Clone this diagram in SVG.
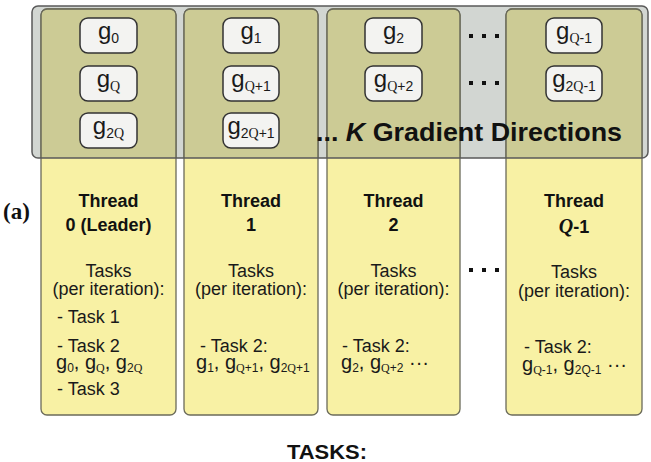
<svg xmlns="http://www.w3.org/2000/svg" width="651" height="462" viewBox="0 0 651 462">
<style>
.gbox{fill:#d2d6d2;stroke:none}
.gedge{fill:none;stroke:#5a5a5a;stroke-width:1.5}
.col{fill:#f8f1a4;stroke:#6b6b5a;stroke-width:1.3}
.top{fill:#cccb95;stroke:none}
.colline{fill:none;stroke:#6b6b5a;stroke-width:1.3}
.chip{fill:#f3f3f1;stroke:#333;stroke-width:1.5}
.g{font-family:"Liberation Sans",Arial,sans-serif;font-size:24px;fill:#1a1a1a}
.s{font-size:14px}
.q{font-family:"Liberation Serif","Times New Roman",serif}
.hd{font-family:"Liberation Sans",Arial,sans-serif;font-size:18px;font-weight:bold;fill:#111;text-anchor:middle}
.tx{font-family:"Liberation Sans",Arial,sans-serif;font-size:18px;fill:#1a1a1a}
.mid{text-anchor:middle}
.gl{font-family:"Liberation Sans",Arial,sans-serif;font-size:20px;fill:#1a1a1a}
.ss{font-size:12px}
.dot{fill:#111}
</style>
<g id="gradient-box">
<rect class="gbox" x="32" y="6" width="616" height="152" rx="6"/>
</g>
<g id="thread-0">
<rect class="col" x="41" y="9" width="135" height="406" rx="6"/>
<path class="top" d="M47,9.6 H170 A5.4,5.4 0 0 1 175.4,15 V158 H41.6 V15 A5.4,5.4 0 0 1 47,9.6 Z"/>
<path class="colline" d="M41,158 V15 A6,6 0 0 1 47,9 H170 A6,6 0 0 1 176,15 V158"/>
<rect class="chip" x="80" y="18" width="57" height="35" rx="8"/>
<rect class="chip" x="80" y="66" width="57" height="35" rx="8"/>
<rect class="chip" x="80" y="113" width="57" height="35" rx="8"/>
<text class="g mid" x="108.5" y="39">g<tspan class="s" dy="4">0</tspan></text>
<text class="g mid" x="108.5" y="87">g<tspan class="s q" dy="4">Q</tspan></text>
<text class="g mid" x="108.5" y="134">g<tspan class="s" dy="4">2</tspan><tspan class="s q">Q</tspan></text>
<text class="hd" x="108.5" y="207">Thread</text>
<text class="hd" x="108.5" y="231">0 (Leader)</text>
<text class="tx mid" x="108.5" y="277">Tasks</text>
<text class="tx mid" x="108.5" y="295">(per iteration):</text>
<text class="tx" x="57" y="323">- Task 1</text>
<text class="tx" x="57" y="352">- Task 2</text>
<text class="gl" x="56" y="369">g<tspan class="ss" dy="3">0</tspan><tspan dy="-3">, g</tspan><tspan class="ss q" dy="3">Q</tspan><tspan dy="-3">, g</tspan><tspan class="ss" dy="3">2</tspan><tspan class="ss q">Q</tspan></text>
<text class="tx" x="57" y="395">- Task 3</text>
</g>
<g id="thread-1">
<rect class="col" x="184" y="9" width="134" height="406" rx="6"/>
<path class="top" d="M190,9.6 H312 A5.4,5.4 0 0 1 317.4,15 V158 H184.6 V15 A5.4,5.4 0 0 1 190,9.6 Z"/>
<path class="colline" d="M184,158 V15 A6,6 0 0 1 190,9 H312 A6,6 0 0 1 318,15 V158"/>
<rect class="chip" x="223" y="18" width="56" height="35" rx="8"/>
<rect class="chip" x="223" y="66" width="56" height="35" rx="8"/>
<rect class="chip" x="223" y="113" width="56" height="35" rx="8"/>
<text class="g mid" x="251" y="39">g<tspan class="s" dy="4">1</tspan></text>
<text class="g mid" x="251" y="87">g<tspan class="s q" dy="4">Q</tspan><tspan class="s">+1</tspan></text>
<text class="g mid" x="251" y="134">g<tspan class="s" dy="4">2</tspan><tspan class="s q">Q</tspan><tspan class="s">+1</tspan></text>
<text class="hd" x="251" y="207">Thread</text>
<text class="hd" x="251" y="231">1</text>
<text class="tx mid" x="251" y="277">Tasks</text>
<text class="tx mid" x="251" y="295">(per iteration):</text>
<text class="tx" x="200" y="352">- Task 2:</text>
<text class="gl" x="196" y="369">g<tspan class="ss" dy="3">1</tspan><tspan dy="-3">, g</tspan><tspan class="ss q" dy="3">Q</tspan><tspan class="ss">+1</tspan><tspan dy="-3">, g</tspan><tspan class="ss" dy="3">2</tspan><tspan class="ss q">Q</tspan><tspan class="ss">+1</tspan></text>
</g>
<g id="thread-2">
<rect class="col" x="327" y="9" width="133" height="406" rx="6"/>
<path class="top" d="M333,9.6 H454 A5.4,5.4 0 0 1 459.4,15 V158 H327.6 V15 A5.4,5.4 0 0 1 333,9.6 Z"/>
<path class="colline" d="M327,158 V15 A6,6 0 0 1 333,9 H454 A6,6 0 0 1 460,15 V158"/>
<rect class="chip" x="365" y="18" width="57" height="35" rx="8"/>
<rect class="chip" x="365" y="66" width="57" height="35" rx="8"/>
<text class="g mid" x="393.5" y="39">g<tspan class="s" dy="4">2</tspan></text>
<text class="g mid" x="393.5" y="87">g<tspan class="s q" dy="4">Q</tspan><tspan class="s">+2</tspan></text>
<text class="hd" x="393.5" y="207">Thread</text>
<text class="hd" x="393.5" y="231">2</text>
<text class="tx mid" x="393.5" y="277">Tasks</text>
<text class="tx mid" x="393.5" y="295">(per iteration):</text>
<text class="tx" x="342" y="352">- Task 2:</text>
<text class="gl" x="341" y="369">g<tspan class="ss" dy="3">2</tspan><tspan dy="-3">, g</tspan><tspan class="ss q" dy="3">Q</tspan><tspan class="ss">+2</tspan><tspan dy="-3"> ···</tspan></text>
</g>
<g id="thread-q-1">
<rect class="col" x="506" y="9" width="136" height="406" rx="6"/>
<path class="top" d="M512,9.6 H636 A5.4,5.4 0 0 1 641.4,15 V158 H506.6 V15 A5.4,5.4 0 0 1 512,9.6 Z"/>
<path class="colline" d="M506,158 V15 A6,6 0 0 1 512,9 H636 A6,6 0 0 1 642,15 V158"/>
<rect class="chip" x="546" y="18" width="56" height="35" rx="8"/>
<rect class="chip" x="546" y="66" width="56" height="35" rx="8"/>
<text class="g mid" x="574" y="39">g<tspan class="s q" dy="4">Q</tspan><tspan class="s">-1</tspan></text>
<text class="g mid" x="574" y="87">g<tspan class="s" dy="4">2</tspan><tspan class="s q">Q</tspan><tspan class="s">-1</tspan></text>
<text class="hd" x="574" y="207">Thread</text>
<text class="hd" x="574" y="233"><tspan class="q" font-style="italic" font-size="20">Q</tspan>-1</text>
<text class="tx mid" x="574" y="278">Tasks</text>
<text class="tx mid" x="574" y="297">(per iteration):</text>
<text class="tx" x="524" y="353">- Task 2:</text>
<text class="gl" x="522" y="371">g<tspan class="ss q" dy="3">Q</tspan><tspan class="ss">-1</tspan><tspan dy="-3">, g</tspan><tspan class="ss" dy="3">2</tspan><tspan class="ss">Q-1</tspan><tspan dy="-3"> ···</tspan></text>
</g>
<g id="gradient-box-edge">
<rect class="gedge" x="32" y="6" width="616" height="152" rx="6"/>
<text x="316" y="141" font-family="Liberation Sans,Arial,sans-serif" font-size="25" font-weight="bold" fill="#111" textLength="306" lengthAdjust="spacingAndGlyphs">... <tspan font-style="italic">K</tspan> Gradient Directions</text>
</g>
<g id="ellipses">
<rect class="dot" x="469" y="34" width="4" height="4"/>
<rect class="dot" x="482" y="34" width="4" height="4"/>
<rect class="dot" x="495" y="34" width="4" height="4"/>
<rect class="dot" x="469" y="81" width="4" height="4"/>
<rect class="dot" x="482" y="81" width="4" height="4"/>
<rect class="dot" x="495" y="81" width="4" height="4"/>
<rect class="dot" x="469" y="268" width="4" height="4"/>
<rect class="dot" x="482" y="268" width="4" height="4"/>
<rect class="dot" x="495" y="268" width="4" height="4"/>
</g>
<g id="connectors"></g>
<text x="3" y="219" font-family="Liberation Serif,Times New Roman,serif" font-size="23" font-weight="bold" fill="#111">(a)</text>
<text x="287" y="459" font-family="Liberation Sans,Arial,sans-serif" font-size="20" font-weight="bold" fill="#111" textLength="80" lengthAdjust="spacingAndGlyphs">TASKS:</text>
</svg>
